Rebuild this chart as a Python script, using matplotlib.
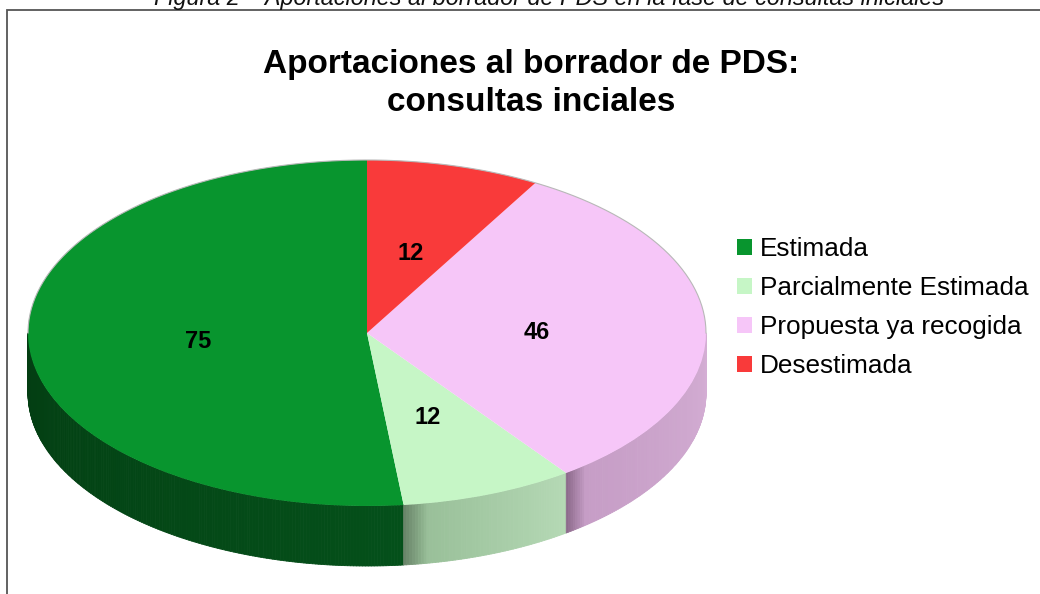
import numpy as np
import matplotlib
matplotlib.use("Agg")
from matplotlib import pyplot as plt
from matplotlib.patches import Patch, Rectangle
from matplotlib.collections import PolyCollection
from matplotlib.colors import to_rgb

plt.rcParams['font.family'] = ['Liberation Sans', 'DejaVu Sans']

categories = ["Estimada", "Parcialmente Estimada", "Propuesta ya recogida", "Desestimada"]
values = [75, 12, 46, 12]
top_colors = ["#08952e", "#c6f6c6", "#f6c6f8", "#f93a3a"]
# side shading: (edge, start, end) colours per slice
side_colors = [("#033c13", "#033d12", "#04501a"),
               ("#6a856a", "#95bc95", "#b5d9b5"),
               ("#8d6b8c", "#c59cc5", "#d4aed4"),
               ("#b02020", "#c02828", "#c02828")]
title_lines = ["Aportaciones al borrador de PDS:", "consultas inciales"]
caption = "Figura 2 – Aportaciones al borrador de PDS en la fase de consultas iniciales"

W, H = 1040, 594
fig = plt.figure(figsize=(W / 100, H / 100), dpi=100)

def fx(x):
    return x / W

def fy(y):
    return 1 - y / H

# outer frame (right and bottom edges fall outside the picture)
fig.patches.append(Rectangle((fx(7), -0.05), 1.2, fy(10) + 0.05, transform=fig.transFigure,
                             fill=False, edgecolor="#555555", lw=1.3))

# caption above the frame, cut by the top edge as in the source image
fig.text(fx(549), fy(5), caption, ha="center", va="baseline", fontsize=16.8,
         style="italic", color="#111111")
fig.text(fx(531), fy(73), title_lines[0], ha="center", va="baseline", fontsize=24, fontweight="bold")
fig.text(fx(531), fy(111), title_lines[1], ha="center", va="baseline", fontsize=24, fontweight="bold")

# pie geometry (pixels): centre, semi-axes, depth
cx, cy, a, b, depth_px = 367, 333, 339, 173, 60
xl, yl = (-1.02, 1.02), (-1.5, 1.05)
ax = fig.add_axes([fx(cx + xl[0] * a), fy(cy - yl[0] * b),
                   (xl[1] - xl[0]) * a / W, (yl[1] - yl[0]) * b / H])
total = sum(values)
wedges, texts, autotexts = ax.pie(values, colors=top_colors, startangle=90,
                                  autopct=lambda p: f"{round(p * total / 100)}",
                                  pctdistance=0.5, wedgeprops=dict(lw=0, zorder=3),
                                  textprops=dict(fontsize=17, fontweight="bold"))
for t in autotexts:
    t.set_zorder(5)
    px, py = t.get_position()
    t.set_position((px, py - 4 / b))
ax.set_aspect("auto")
ax.set_xlim(*xl)
ax.set_ylim(*yl)
ax.axis("off")

d = depth_px / b
for w, (edge, c0, c1) in zip(wedges, side_colors):
    t1, t2 = w.theta1, w.theta2
    # visible front part: angles between 180 and 360
    lo = max(t1, 180)
    hi = min(t2, 360)
    if t1 >= 360 or hi <= lo:
        continue
    ts = np.linspace(lo, hi, int((hi - lo) * 2) + 2)
    polys, cols = [], []
    e, s, f = np.array(to_rgb(edge)), np.array(to_rgb(c0)), np.array(to_rgb(c1))
    for i in range(len(ts) - 1):
        ta, tb = np.radians(ts[i]), np.radians(ts[i + 1])
        polys.append([(np.cos(ta), np.sin(ta)), (np.cos(tb), np.sin(tb)),
                      (np.cos(tb), np.sin(tb) - d), (np.cos(ta), np.sin(ta) - d)])
        frac = (ts[i] - lo) / (hi - lo)
        k = min((ts[i] - lo) / 4.0, 1.0) if lo > 180 else 1.0
        col = s + (f - s) * frac
        col = e + (col - e) * k
        cols.append(col)
    ax.add_collection(PolyCollection(polys, facecolors=cols, edgecolors=cols,
                                     linewidths=0.6, zorder=1))

# faint outline along the back edge
tt = np.linspace(0, np.pi, 200)
ax.plot(np.cos(tt), np.sin(tt), color="#b8b8b8", lw=0.8, zorder=4)

handles = [Patch(facecolor=c, edgecolor="none") for c in top_colors]
fig.legend(handles, categories, loc="upper left", bbox_to_anchor=(fx(737), fy(237)),
           frameon=False, fontsize=18.8, handlelength=0.58, handleheight=0.58,
           handletextpad=0.3, labelspacing=0.58, borderaxespad=0, borderpad=0)

fig.savefig("out.png", dpi=100)
